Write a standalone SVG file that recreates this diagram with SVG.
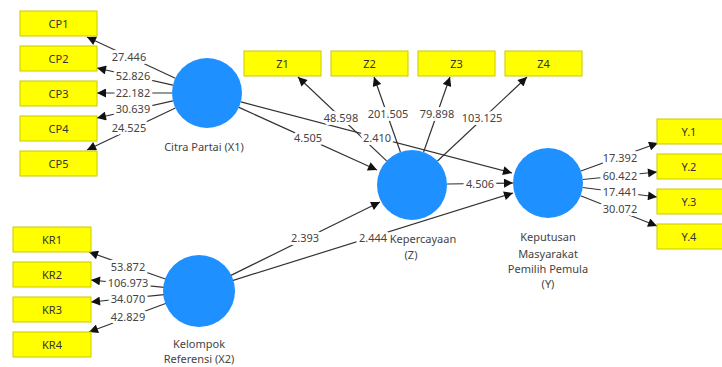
<svg xmlns="http://www.w3.org/2000/svg" width="722" height="367" viewBox="0 0 722 367">
<style>
.box{fill:#ffff00;stroke:#c9c900;stroke-width:1}
.lv{fill:#1e90ff}
.bt{font-family:"Noto Sans","DejaVu Sans",sans-serif;font-size:11px;fill:#333;text-anchor:middle}
.lt{font-family:"Noto Sans","DejaVu Sans",sans-serif;font-size:11px;fill:#444;text-anchor:middle}
.num{font-family:"Noto Sans","DejaVu Sans",sans-serif;font-size:11px;fill:#444;text-anchor:middle}
.halo{stroke:#fff;stroke-width:6;stroke-linejoin:round;fill:#fff}
.c{stroke:#333;stroke-width:1.2;fill:none;marker-end:url(#ah)}
</style>
<defs>
<marker id="ah" viewBox="0 0 10 10" refX="10" refY="5" markerWidth="10" markerHeight="9" markerUnits="userSpaceOnUse" orient="auto">
<path d="M0,0 L10,5 L0,10 z" fill="#111"/>
</marker>
</defs>
<rect width="722" height="367" fill="#fff"/>
<g id="connectors">
<line class="c" x1="175.3" y1="78.2" x2="87" y2="37"/>
<line class="c" x1="172.9" y1="85.2" x2="97" y2="68"/>
<line class="c" x1="172" y1="93" x2="97" y2="93"/>
<line class="c" x1="172.9" y1="100.8" x2="97" y2="118"/>
<line class="c" x1="175.4" y1="108" x2="87" y2="150"/>
<line class="c" x1="238.9" y1="107.4" x2="377" y2="170"/>
<line class="c" x1="240.9" y1="101.9" x2="512" y2="173"/>
<line class="c" x1="386.6" y1="160.9" x2="298" y2="77"/>
<line class="c" x1="400.4" y1="152" x2="374" y2="77"/>
<line class="c" x1="423.6" y1="152" x2="450" y2="77"/>
<line class="c" x1="437.5" y1="161" x2="527" y2="77"/>
<line class="c" x1="447" y1="184" x2="513" y2="183"/>
<line class="c" x1="166" y1="279.3" x2="89" y2="252"/>
<line class="c" x1="164.2" y1="287.4" x2="91" y2="280"/>
<line class="c" x1="164.2" y1="294.6" x2="91" y2="302"/>
<line class="c" x1="166.2" y1="303.2" x2="89" y2="332"/>
<line class="c" x1="230.4" y1="275.6" x2="380" y2="202"/>
<line class="c" x1="232.4" y1="280.6" x2="513" y2="193"/>
<line class="c" x1="580.9" y1="171" x2="658" y2="143"/>
<line class="c" x1="582.8" y1="179.5" x2="657" y2="172"/>
<line class="c" x1="582.7" y1="187.5" x2="657" y2="197"/>
<line class="c" x1="580.6" y1="195.8" x2="657" y2="226"/>
<g class="num halo">
<text x="129" y="61">27.446</text>
<text x="133" y="80">52.826</text>
<text x="133" y="97">22.182</text>
<text x="133" y="113">30.639</text>
<text x="129" y="132">24.525</text>
<text x="308" y="142">4.505</text>
<text x="377" y="142">2.410</text>
<text x="341" y="122">48.598</text>
<text x="388" y="118">201.505</text>
<text x="437" y="118">79.898</text>
<text x="482" y="122">103.125</text>
<text x="480" y="188">4.506</text>
<text x="128" y="271">53.872</text>
<text x="128" y="287">106.973</text>
<text x="128" y="303">34.070</text>
<text x="128" y="321">42.829</text>
<text x="305" y="242">2.393</text>
<text x="373" y="242">2.444</text>
<text x="620" y="162">17.392</text>
<text x="620" y="180">60.422</text>
<text x="620" y="196">17.441</text>
<text x="620" y="213">30.072</text>
</g>
<g class="num">
<text x="129" y="61">27.446</text>
<text x="133" y="80">52.826</text>
<text x="133" y="97">22.182</text>
<text x="133" y="113">30.639</text>
<text x="129" y="132">24.525</text>
<text x="308" y="142">4.505</text>
<text x="377" y="142">2.410</text>
<text x="341" y="122">48.598</text>
<text x="388" y="118">201.505</text>
<text x="437" y="118">79.898</text>
<text x="482" y="122">103.125</text>
<text x="480" y="188">4.506</text>
<text x="128" y="271">53.872</text>
<text x="128" y="287">106.973</text>
<text x="128" y="303">34.070</text>
<text x="128" y="321">42.829</text>
<text x="305" y="242">2.393</text>
<text x="373" y="242">2.444</text>
<text x="620" y="162">17.392</text>
<text x="620" y="180">60.422</text>
<text x="620" y="196">17.441</text>
<text x="620" y="213">30.072</text>
</g>
</g>
<g id="CP1"><rect class="box" x="20" y="11" width="77" height="25"/><text class="bt" x="58.5" y="27.5">CP1</text></g>
<g id="CP2"><rect class="box" x="20" y="46" width="77" height="25"/><text class="bt" x="58.5" y="62.5">CP2</text></g>
<g id="CP3"><rect class="box" x="20" y="81" width="77" height="25"/><text class="bt" x="58.5" y="97.5">CP3</text></g>
<g id="CP4"><rect class="box" x="20" y="116" width="77" height="25"/><text class="bt" x="58.5" y="132.5">CP4</text></g>
<g id="CP5"><rect class="box" x="20" y="151" width="77" height="25"/><text class="bt" x="58.5" y="167.5">CP5</text></g>
<g id="Z1"><rect class="box" x="244" y="51" width="77" height="25"/><text class="bt" x="282.5" y="67.5">Z1</text></g>
<g id="Z2"><rect class="box" x="331" y="51" width="77" height="25"/><text class="bt" x="369.5" y="67.5">Z2</text></g>
<g id="Z3"><rect class="box" x="418" y="51" width="77" height="25"/><text class="bt" x="456.5" y="67.5">Z3</text></g>
<g id="Z4"><rect class="box" x="505" y="51" width="77" height="25"/><text class="bt" x="543.5" y="67.5">Z4</text></g>
<g id="KR1"><rect class="box" x="13" y="227" width="78" height="25"/><text class="bt" x="52" y="243.5">KR1</text></g>
<g id="KR2"><rect class="box" x="13" y="262" width="78" height="25"/><text class="bt" x="52" y="278.5">KR2</text></g>
<g id="KR3"><rect class="box" x="13" y="297" width="78" height="25"/><text class="bt" x="52" y="313.5">KR3</text></g>
<g id="KR4"><rect class="box" x="13" y="332" width="78" height="25"/><text class="bt" x="52" y="348.5">KR4</text></g>
<g id="Y1"><rect class="box" x="657" y="119" width="66" height="25"/><text class="bt" x="689" y="135.5">Y.1</text></g>
<g id="Y2"><rect class="box" x="657" y="154" width="66" height="25"/><text class="bt" x="689" y="170.5">Y.2</text></g>
<g id="Y3"><rect class="box" x="657" y="189" width="66" height="25"/><text class="bt" x="689" y="205.5">Y.3</text></g>
<g id="Y4"><rect class="box" x="657" y="224" width="66" height="25"/><text class="bt" x="689" y="240.5">Y.4</text></g>
<g id="X1"><circle class="lv" cx="207" cy="93" r="35"/><text class="lt" x="204" y="151">Citra Partai (X1)</text></g>
<g id="X2"><circle class="lv" cx="199" cy="291" r="36"/><text class="lt" x="199" y="348">Kelompok</text><text class="lt" x="199" y="363">Referensi (X2)</text></g>
<g id="Z"><circle class="lv" cx="412" cy="185" r="35"/><text class="lt" x="423" y="243">Kepercayaan</text><text class="lt" x="411" y="259">(Z)</text></g>
<g id="Y"><circle class="lv" cx="548" cy="183" r="35"/><text class="lt" x="548" y="241">Keputusan</text><text class="lt" x="548" y="258">Masyarakat</text><text class="lt" x="548" y="273">Pemilih Pemula</text><text class="lt" x="548" y="288">(Y)</text></g>
</svg>
